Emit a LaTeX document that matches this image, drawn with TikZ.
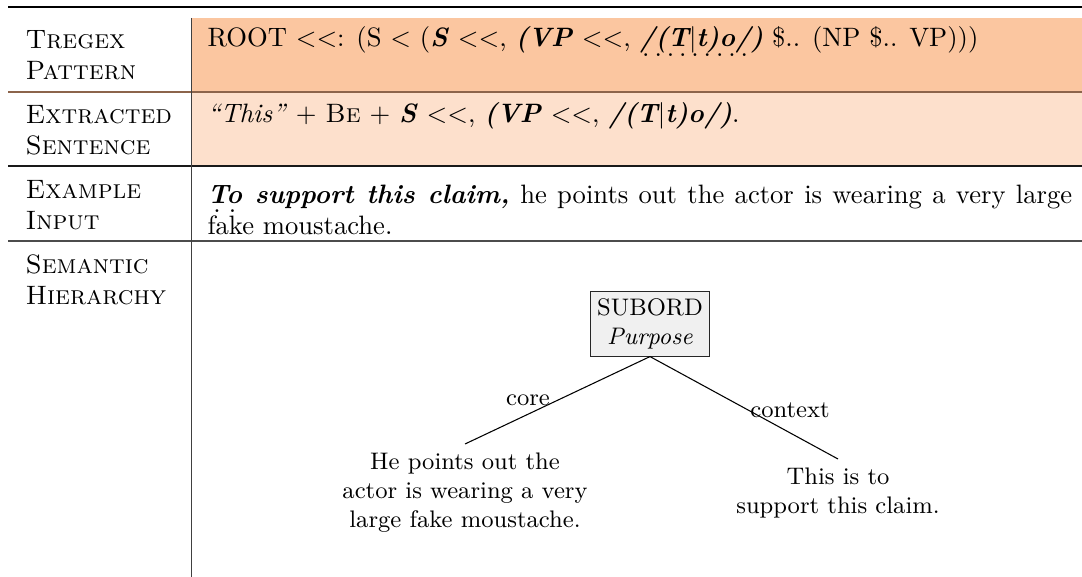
\documentclass[tikz,border=0pt]{standalone}
\usepackage{fontspec}
\definecolor{rowA}{RGB}{251,198,160}
\definecolor{rowB}{RGB}{253,224,204}
\definecolor{ruleA}{RGB}{140,100,75}
\newcommand{\bi}[1]{\textbf{\textit{#1}}}
\newsavebox{\dulbox}
\newcommand{\dotul}[1]{\sbox{\dulbox}{#1}\rlap{\raisebox{-3.4pt}{\hbox to \wd\dulbox{\xleaders\hbox to 4.5pt{\hss\normalfont.\hss}\hfil}}}\usebox{\dulbox}}
\tikzset{
  head/.style={anchor=base west, align=left, font=\scshape, inner sep=0pt},
  cell/.style={anchor=base west, align=left, inner sep=0pt},
  rowrule/.style={line width=0.5pt, draw=black!70},
  vrule/.style={line width=0.5pt, draw=black!75},
  hbox/.style={draw=black!85, line width=0.4pt, fill=black!6, font=\small, align=center, inner sep=2.5pt},
  leaf/.style={anchor=north, font=\small, align=center, inner sep=3pt},
  edgelbl/.style={font=\small, inner sep=0pt},
  edge/.style={line width=0.4pt, draw=black}
}
\begin{document}
\begin{tikzpicture}[x=0.3759pt,y=-0.3759pt]
\useasboundingbox (0,0) rectangle (1082,577);
% fills
\fill[rowA] (192,18) rectangle (1082,92);
\fill[rowB] (192,92) rectangle (1082,166);
% rules
\draw[line width=0.8pt] (8,7) -- (1082,7);
\draw[rowrule, draw=ruleA] (8,92) -- (1082,92);
\draw[rowrule, draw=black!90] (8,166) -- (1082,166);
\draw[rowrule] (8,241) -- (1082,241);
\draw[vrule] (191.5,18) -- (191.5,577);
% heads (anchor at the baseline of the last line)
\node[head] (h1) at (25,80) {Tregex\\Pattern};
\node[head] (h2) at (25,155) {Extracted\\Sentence};
\node[head] (h3) at (25,230) {Example\\Input};
\node[head] (h4) at (25,305) {Semantic\\Hierarchy};
% cells
\node[cell] (c1) at (207,47) {ROOT $<<$: (S $<$ (\bi{S} $<<$, \bi{(VP} $<<$, \bi{\dotul{/(T$|$t)o/})} \$.. (NP \$.. VP)))};
\node[cell] (c2) at (207,123) {\textit{“This”} $+$ \textsc{Be} $+$ \bi{S} $<<$, \bi{(VP} $<<$, \bi{/(T$|$t)o/)}.};
\node[cell, text width=325pt, align=justify, anchor=north west] (c3) at (207,184) {\bi{\dotul{To} support this claim,} he points out the actor is wearing a very large fake moustache.};
% tree
\node[hbox] (sub) at (650,324) {SUBORD\\\textit{Purpose}};
\node[leaf] (l) at (465,444) {He points out the\\actor is wearing a very\\large fake moustache.};
\node[leaf] (r) at (838,459) {This is to\\support this claim.};
\draw[edge] (sub.south) -- (l.north);
\draw[edge] (sub.south) -- (r.north);
\node[edgelbl] (lc) at (528,400) {core};
\node[edgelbl] (lx) at (790,410) {context};
\end{tikzpicture}
\end{document}
